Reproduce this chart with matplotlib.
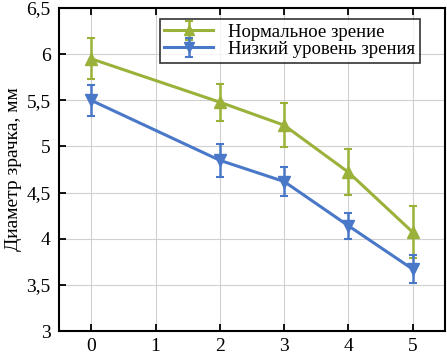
import matplotlib
matplotlib.use("Agg")
import matplotlib.pyplot as plt

plt.rcParams['font.family'] = 'serif'
plt.rcParams['font.serif'] = ['Liberation Serif', 'DejaVu Serif']

x_normal = [0, 2, 3, 4, 5]
y_normal = [5.95, 5.48, 5.23, 4.72, 4.07]
err_normal = [0.22, 0.20, 0.24, 0.25, 0.28]

x_low = [0, 2, 3, 4, 5]
y_low = [5.50, 4.85, 4.62, 4.14, 3.67]
err_low = [0.17, 0.18, 0.16, 0.14, 0.15]

xticks = [0, 1, 2, 3, 4, 5]
yticks = [3, 3.5, 4, 4.5, 5, 5.5, 6, 6.5]
yticklabels = ['3', '3,5', '4', '4,5', '5', '5,5', '6', '6,5']

label_normal = 'Нормальное зрение'
label_low = 'Низкий уровень зрения'
ylabel = 'Диаметр зрачка, мм'

green = '#9AB23A'
blue = '#4A78C8'

fig = plt.figure(figsize=(4.47, 3.56), dpi=100)
ax = fig.add_axes([0.132, 0.070, 0.8635, 0.9075])

ax.errorbar(x_normal, y_normal, yerr=err_normal, color=green, marker='^',
            markersize=8, lw=2.2, capsize=3, elinewidth=1.8, capthick=1.5,
            label=label_normal, zorder=3)
ax.errorbar(x_low, y_low, yerr=err_low, color=blue, marker='v',
            markersize=8, lw=2.2, capsize=3, elinewidth=1.8, capthick=1.5,
            label=label_low, zorder=3)

ax.set_xlim(-0.5, 5.5)
ax.set_ylim(3, 6.5)
ax.set_xticks(xticks)
ax.set_yticks(yticks)
ax.set_yticklabels(yticklabels)
ax.grid(True, color='#d0d0d0', lw=0.8)
ax.set_axisbelow(True)
ax.tick_params(direction='in', top=True, right=False, labelsize=14,
               length=5, width=1.3)
ax.tick_params(axis='x', pad=5)
ax.tick_params(axis='y', pad=6)
for s in ax.spines.values():
    s.set_linewidth(1.5)
ax.set_ylabel(ylabel, fontsize=14, labelpad=3)

leg = ax.legend(loc='upper right', bbox_to_anchor=(0.935, 0.966), fontsize=13.5,
                frameon=True, fancybox=False, edgecolor='black',
                borderpad=0.25, labelspacing=0.0, handlelength=2.6,
                handletextpad=0.8, borderaxespad=0.0, markerscale=0.9)
leg.get_frame().set_linewidth(1.2)

fig.savefig('out.png', dpi=100)
